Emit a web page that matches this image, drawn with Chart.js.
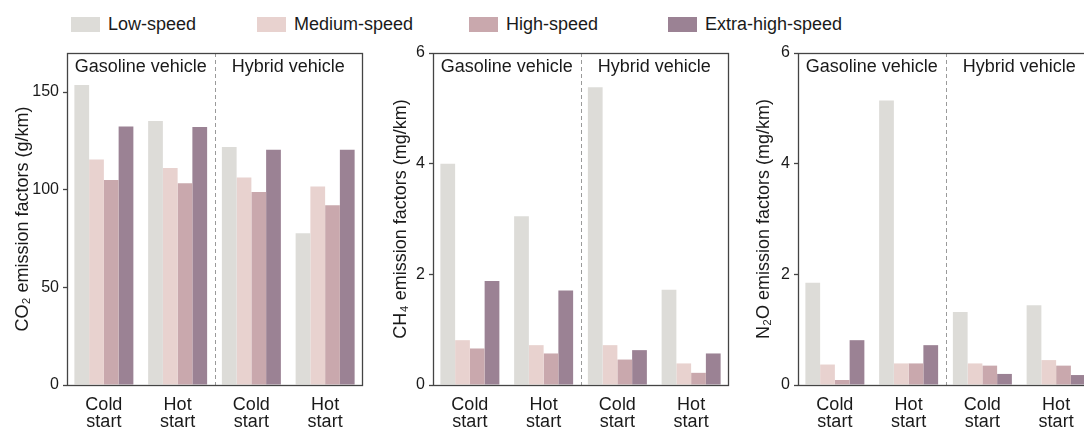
<!DOCTYPE html>
<html>
<head>
<meta charset="utf-8">
<script src="https://cdn.jsdelivr.net/npm/chart.js@4.4.1/dist/chart.umd.min.js"></script>
<style>
  html, body { margin:0; padding:0; background:#fff; width:1084px; height:427px; overflow:hidden; position:relative; font-family:"Liberation Sans", Arial, sans-serif; }
  .panel { position:absolute; top:30px; height:397px; width:364px; }
  .legend-item { position:absolute; top:14px; height:20px; display:flex; align-items:center; font-size:18px; color:#1a1a1a; white-space:nowrap; }
  .legend-item span.sw { display:inline-block; width:29px; height:15px; margin-right:8px; }
</style>
</head>
<body>
<div id="legend"></div>
<div class="panel" style="left:0px"><canvas id="c1"></canvas></div>
<div class="panel" style="left:366px"><canvas id="c2"></canvas></div>
<div class="panel" style="left:731px"><canvas id="c3"></canvas></div>
<script>
// ---------------- data ----------------
const categories = [['Cold','start'],['Hot','start'],['Cold','start'],['Hot','start']];
const groupLabels = ['Gasoline vehicle','Hybrid vehicle'];
const seriesNames = ['Low-speed','Medium-speed','High-speed','Extra-high-speed'];
const seriesColors = ['#dddcd8','#e8d2cf','#c9a8ad','#9b8294'];

// CO2 (g/km)
const co2Low    = [153.6, 135.2, 121.9, 77.7];
const co2Medium = [115.5, 111.1, 106.2, 101.7];
const co2High   = [105.0, 103.3, 98.8, 92.0];
const co2Extra  = [132.4, 132.1, 120.5, 120.5];
// CH4 (mg/km)
const ch4Low    = [4.00, 3.05, 5.38, 1.72];
const ch4Medium = [0.81, 0.72, 0.72, 0.39];
const ch4High   = [0.66, 0.57, 0.46, 0.22];
const ch4Extra  = [1.88, 1.71, 0.63, 0.57];
// N2O (mg/km)
const n2oLow    = [1.85, 5.14, 1.32, 1.44];
const n2oMedium = [0.37, 0.39, 0.39, 0.45];
const n2oHigh   = [0.09, 0.39, 0.35, 0.35];
const n2oExtra  = [0.81, 0.72, 0.20, 0.18];

const co2Ticks = [0, 50, 100, 150];
const smallTicks = [0, 2, 4, 6];

// ---------------- legend ----------------
const legendLeft = [71, 257, 469, 668];
const legendEl = document.getElementById('legend');
seriesNames.forEach((n, i) => {
  const d = document.createElement('div');
  d.className = 'legend-item';
  d.style.left = legendLeft[i] + 'px';
  d.innerHTML = '<span class="sw" style="background:' + seriesColors[i] + '"></span>' + n;
  legendEl.appendChild(d);
});

// ---------------- plugin ----------------
const framePlugin = {
  id: 'frame',
  afterDatasetsDraw(chart) {
    const ctx = chart.ctx;
    const {left, right, top, bottom} = chart.chartArea;
    const x = chart.scales.x;
    ctx.save();
    // dashed separator
    const sx = Math.round(x.getPixelForValue(1.5)) + 0.5;
    ctx.strokeStyle = '#9a9a9a';
    ctx.lineWidth = 1;
    ctx.setLineDash([4, 3]);
    ctx.beginPath(); ctx.moveTo(sx, top); ctx.lineTo(sx, bottom); ctx.stroke();
    ctx.setLineDash([]);
    // frame
    ctx.strokeStyle = '#444';
    ctx.lineWidth = 1.3;
    ctx.strokeRect(Math.round(left) + 0.5, Math.round(top) + 0.5, Math.round(right - left), Math.round(bottom - top));
    // group labels
    ctx.fillStyle = '#1a1a1a';
    ctx.font = '18px "Liberation Sans", Arial, sans-serif';
    ctx.textAlign = 'center';
    ctx.textBaseline = 'middle';
    ctx.fillText(groupLabels[0], x.getPixelForValue(0.5), top + 14);
    ctx.fillText(groupLabels[1], x.getPixelForValue(2.5), top + 14);
    ctx.restore();
  }
};

function makeChart(id, series, maxV, ticks, step, title, titlePad) {
  const datasets = series.map((arr, i) => ({
    label: seriesNames[i],
    data: arr,
    backgroundColor: seriesColors[i],
    borderWidth: 0,
    categoryPercentage: 0.8,
    barPercentage: 1.0
  }));
  return new Chart(document.getElementById(id), {
    type: 'bar',
    data: { labels: categories, datasets },
    options: {
      responsive: true,
      maintainAspectRatio: false,
      animation: false,
      layout: { padding: { top: 23, right: 2, left: 0, bottom: 0 } },
      plugins: { legend: { display: false }, tooltip: { enabled: false } },
      scales: {
        x: {
          grid: { display: false, drawTicks: false },
          border: { display: false },
          ticks: { color: '#1a1a1a', padding: 11, maxRotation: 0, autoSkip: false,
                   font: { family: '"Liberation Sans", Arial, sans-serif', size: 18, lineHeight: 0.95 } },
          afterFit(s) { s.height = 42; }
        },
        y: {
          min: 0, max: maxV,
          grid: { drawOnChartArea: false, drawTicks: true, tickLength: 4, tickColor: '#444', tickWidth: 1.3 },
          border: { display: false },
          ticks: { stepSize: step, color: '#1a1a1a', padding: 4,
                   font: { family: '"Liberation Sans", Arial, sans-serif', size: 16 } },
          afterBuildTicks(s) { s.ticks = ticks.map(v => ({ value: v })); },
          title: { display: true, text: title, color: '#1a1a1a',
                   font: { family: '"Liberation Sans", Arial, sans-serif', size: 18 },
                   padding: { top: titlePad, bottom: 0 } },
          afterFit(s) { s.width = 67; }
        }
      }
    },
    plugins: [framePlugin]
  });
}

makeChart('c1', [co2Low, co2Medium, co2High, co2Extra], 170, co2Ticks, 50, 'CO₂ emission factors (g/km)', 12);
makeChart('c2', [ch4Low, ch4Medium, ch4High, ch4Extra], 6, smallTicks, 2, 'CH₄ emission factors (mg/km)', 24);
makeChart('c3', [n2oLow, n2oMedium, n2oHigh, n2oExtra], 6, smallTicks, 2, 'N₂O emission factors (mg/km)', 22);
</script>
</body>
</html>
